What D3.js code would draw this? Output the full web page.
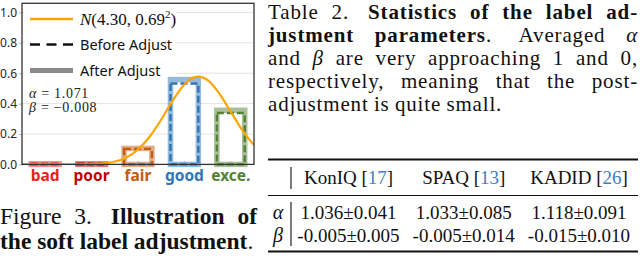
<!DOCTYPE html>
<html>
<head>
<meta charset="utf-8">
<script src="https://cdn.jsdelivr.net/npm/d3@7"></script>
<style>
  html, body { margin: 0; padding: 0; background: #fff; }
  svg { display: block; }
</style>
</head>
<body>
<script>
// values
const categories = ["bad", "poor", "fair", "good", "exce."];
const beforeAdjust = [0.004, 0.004, 0.102, 0.532, 0.338];
const afterAdjust = [0.004, 0.004, 0.105, 0.558, 0.356];
// orange curve
const curveX = [0.5, 1.0, 1.5, 2.0, 2.25, 2.5, 2.75, 3.0, 3.25, 3.5, 3.75, 4.0, 4.15, 4.3, 4.45, 4.6, 4.75, 5.0, 5.25, 5.5];
const curveY = [0.000, 0.000, 0.000, 0.002, 0.007, 0.019, 0.046, 0.098, 0.182, 0.295, 0.421, 0.526, 0.565, 0.578, 0.565, 0.526, 0.467, 0.346, 0.224, 0.127];
const yTicks = [0, 0.2, 0.4, 0.6, 0.8, 1.0];
const alphaText = "1.071";
const betaText = "\u22120.008";

// table
const tableCols = ["KonIQ", "SPAQ", "KADID"];
const tableRefs = ["17", "13", "26"];
const alphaRow = ["1.036\u00b10.041", "1.033\u00b10.085", "1.118\u00b10.091"];
const betaRow = ["-0.005\u00b10.005", "-0.005\u00b10.014", "-0.015\u00b10.010"];

const catColors = ["#f01e1e", "#c00000", "#c55a11", "#2e75b6", "#548235"];
const W = 640, H = 259;
const serif = "'Liberation Serif', 'Times New Roman', serif";
const sans = "'Noto Sans', 'Open Sans', sans-serif";

const svg = d3.select("body").append("svg")
    .attr("width", W)
    .attr("height", H);

// ---------- chart ----------
const x = d3.scaleLinear().domain([0.5, 5.5]).range([22, 254]);
const y = d3.scaleLinear().domain([0, 1.06]).range([164.4, 3.3]);
const barW = 0.6;

const chart = svg.append("g");

chart.append("clipPath").attr("id", "plot")
  .append("rect")
    .attr("x", x(0.5)).attr("y", y(1.06))
    .attr("width", x(5.5) - x(0.5)).attr("height", y(0) - y(1.06));

// grid
chart.append("g")
    .selectAll("line")
    .data(yTicks)
    .join("line")
      .attr("x1", x(0.5)).attr("x2", x(5.5))
      .attr("y1", d => y(d)).attr("y2", d => y(d))
      .attr("stroke", "#e4e4e4")
      .attr("stroke-width", 1);

// y axis labels + small ticks
const yAxis = chart.append("g")
    .attr("transform", `translate(${x(0.5)},0)`)
    .call(d3.axisLeft(y).tickValues(yTicks).tickFormat(d3.format(".1f")).tickSize(3).tickPadding(2));
yAxis.select(".domain").remove();
yAxis.selectAll(".tick line").attr("stroke", "#bbb");
yAxis.selectAll("text")
    .attr("font-family", sans)
    .attr("font-size", 12)
    .attr("fill", "#262626");

// legend box (white, hides grid)
chart.append("rect")
    .attr("x", 24).attr("y", 5)
    .attr("width", 152).attr("height", 76)
    .attr("fill", "#fff");

// after-adjust bars: thick translucent outline
chart.append("g")
    .selectAll("rect")
    .data(afterAdjust)
    .join("rect")
      .attr("x", (d, i) => x(i + 1 - barW / 2))
      .attr("y", d => y(d))
      .attr("width", x(1 + barW) - x(1))
      .attr("height", d => y(0) - y(d))
      .attr("fill", "#fff")
      .attr("stroke", (d, i) => catColors[i])
      .attr("stroke-opacity", 0.5)
      .attr("stroke-width", 5.5);

// before-adjust bars: dashed outline
chart.append("g")
    .selectAll("rect")
    .data(beforeAdjust)
    .join("rect")
      .attr("x", (d, i) => x(i + 1 - barW / 2))
      .attr("y", d => y(d))
      .attr("width", x(1 + barW) - x(1))
      .attr("height", d => y(0) - y(d))
      .attr("fill", "none")
      .attr("stroke", (d, i) => catColors[i])
      .attr("stroke-width", 2.4)
      .attr("stroke-dasharray", "7,3");

// x ticks (inward, small)
chart.append("g")
    .selectAll("line")
    .data(categories)
    .join("line")
      .attr("x1", (d, i) => x(i + 1)).attr("x2", (d, i) => x(i + 1))
      .attr("y1", y(0)).attr("y2", y(0) - 3)
      .attr("stroke", "#999");

// gaussian curve
const line = d3.line()
    .x(d => x(d[0]))
    .y(d => y(d[1]))
    .curve(d3.curveMonotoneX);
chart.append("path")
    .datum(d3.zip(curveX, curveY))
    .attr("clip-path", "url(#plot)")
    .attr("d", line)
    .attr("fill", "none")
    .attr("stroke", "#ffa500")
    .attr("stroke-width", 2.2);

// frame
chart.append("rect")
    .attr("x", x(0.5)).attr("y", y(1.06))
    .attr("width", x(5.5) - x(0.5)).attr("height", y(0) - y(1.06))
    .attr("fill", "none")
    .attr("stroke", "#333")
    .attr("stroke-width", 1.3);

// category labels
chart.append("g")
    .selectAll("text")
    .data(categories)
    .join("text")
      .attr("x", (d, i) => x(i + 1))
      .attr("y", 181)
      .attr("text-anchor", "middle")
      .attr("font-family", sans)
      .attr("font-weight", "bold")
      .attr("font-size", 15.5)
      .attr("fill", (d, i) => catColors[i])
      .text(d => d);

// legend
const lg = chart.append("g");
lg.append("line").attr("x1", 30).attr("x2", 73).attr("y1", 19).attr("y2", 19)
    .attr("stroke", "#ffa500").attr("stroke-width", 2.4);
lg.append("line").attr("x1", 30).attr("x2", 73).attr("y1", 44.5).attr("y2", 44.5)
    .attr("stroke", "#111").attr("stroke-width", 2.4).attr("stroke-dasharray", "10,6.5");
lg.append("line").attr("x1", 30).attr("x2", 73).attr("y1", 70.5).attr("y2", 70.5)
    .attr("stroke", "#8a8a8a").attr("stroke-width", 5);

const nText = lg.append("text").attr("x", 80).attr("y", 25)
    .attr("font-family", serif).attr("font-size", 17).attr("fill", "#111");
nText.append("tspan").attr("font-style", "italic").text("N");
nText.append("tspan").text("(4.30, 0.69");
nText.append("tspan").attr("font-size", 11).attr("dy", -7).text("2");
nText.append("tspan").attr("dy", 7).text(")");

lg.selectAll("text.lab")
    .data([["Before Adjust", 49.5], ["After Adjust", 75.5]])
    .join("text")
      .attr("class", "lab")
      .attr("x", 80).attr("y", d => d[1])
      .attr("font-family", sans).attr("font-size", 14.5).attr("fill", "#111")
      .text(d => d[0]);

const ab = chart.append("g").attr("font-family", serif).attr("font-size", 14)
    .attr("letter-spacing", 0.7).attr("fill", "#222");
const a1 = ab.append("text").attr("x", 29).attr("y", 97.5);
a1.append("tspan").attr("font-style", "italic").text("\u03b1");
a1.append("tspan").text(" = " + alphaText);
const b1 = ab.append("text").attr("x", 29).attr("y", 112);
b1.append("tspan").attr("font-style", "italic").text("\u03b2");
b1.append("tspan").text(" = " + betaText);

// ---------- justified text ----------
const textG = svg.append("g").attr("font-family", serif).attr("fill", "#111");

function setLine(words, x0, x1, baseline, size, justify, ls) {
  const nodes = words.map(w => {
    const t = textG.append("text")
        .attr("y", baseline)
        .attr("font-size", size)
        .attr("letter-spacing", ls || 0)
        .attr("font-weight", w.b ? "bold" : "normal")
        .attr("font-style", w.i ? "italic" : "normal");
    w.parts.forEach(p => {
      t.append("tspan").attr("font-weight", p[1] ? "bold" : (w.b ? "bold" : "normal")).text(p[0]);
    });
    return t;
  });
  const widths = nodes.map(n => n.node().getComputedTextLength());
  const extra = d3.sum(words, w => w.extra || 0);
  const total = d3.sum(widths) + extra;
  const gap = justify ? (x1 - x0 - total) / (words.length - 1) : size * 0.25;
  let cx = x0;
  nodes.forEach((n, i) => {
    n.attr("x", cx);
    cx += widths[i] + gap + (words[i].extra || 0);
  });
}

function wordsOf(str, bold, italicSet) {
  return str.split(" ").map(s => ({ parts: [[s, false]], b: bold, i: italicSet && italicSet.has(s) }));
}

const it = new Set(["\u03b1", "\u03b2"]);
const paraSize = 21, paraLs = 0.85;
const px0 = 268, px1 = 638;
const paraBase = [18.8, 41.8, 64.8, 87.8, 110.8];

let l1 = wordsOf("Table 2.", false).concat(wordsOf("Statistics of the label ad-", true));
l1[1].extra = 6;
setLine(l1, px0, px1, paraBase[0], paraSize, true, paraLs);

let l2 = wordsOf("justment", true)
  .concat([{ parts: [["parameters", true], [".", false]], b: false, extra: 6 }])
  .concat(wordsOf("Averaged \u03b1", false, it));
setLine(l2, px0, px1, paraBase[1], paraSize, true, paraLs);
setLine(wordsOf("and \u03b2 are very approaching 1 and 0,", false, it), px0, px1, paraBase[2], paraSize, true, paraLs);
setLine(wordsOf("respectively, meaning that the post-", false), px0, px1, paraBase[3], paraSize, true, paraLs);
setLine(wordsOf("adjustment is quite small.", false), px0, px1, paraBase[4], paraSize, false, paraLs);

let c1 = wordsOf("Figure 3.", false).concat(wordsOf("Illustration of", true));
c1[1].extra = 6;
setLine(c1, 0, 257, 224, 23.5, true);
let c2 = wordsOf("the soft label", true).concat([{ parts: [["adjustment", true], [".", false]], b: false }]);
setLine(c2, 0, 257, 249, 23.5, false);

// ---------- table ----------
const tb = svg.append("g").attr("font-family", serif).attr("fill", "#111");
const colX = d3.scalePoint().domain(tableCols).range([348.5, 579]);
const tSize = 19;

tb.append("line").attr("x1", 268).attr("x2", 638).attr("y1", 159.5).attr("y2", 159.5)
    .attr("stroke", "#111").attr("stroke-width", 2);
tb.append("line").attr("x1", 268).attr("x2", 638).attr("y1", 195.5).attr("y2", 195.5)
    .attr("stroke", "#111").attr("stroke-width", 1.2);
tb.append("line").attr("x1", 268).attr("x2", 638).attr("y1", 251.5).attr("y2", 251.5)
    .attr("stroke", "#111").attr("stroke-width", 2);
tb.append("line").attr("x1", 291).attr("x2", 291).attr("y1", 167).attr("y2", 189)
    .attr("stroke", "#333").attr("stroke-width", 1.3);
tb.append("line").attr("x1", 291).attr("x2", 291).attr("y1", 202).attr("y2", 246)
    .attr("stroke", "#333").attr("stroke-width", 1.3);

const head = tb.selectAll("text.h")
    .data(tableCols)
    .join("text")
      .attr("class", "h")
      .attr("x", d => colX(d))
      .attr("y", 184)
      .attr("text-anchor", "middle")
      .attr("font-size", tSize);
head.append("tspan").text(d => d + " [");
head.append("tspan").attr("fill", "#3b7fc4").text((d, i) => tableRefs[i]);
head.append("tspan").text("]");

[[alphaRow, "\u03b1", 218.5], [betaRow, "\u03b2", 241.5]].forEach(([row, sym, by]) => {
  tb.append("text").attr("x", 278).attr("y", by).attr("text-anchor", "middle")
      .attr("font-size", tSize + 1).attr("font-style", "italic").text(sym);
  tb.selectAll(null)
      .data(row)
      .join("text")
        .attr("x", (d, i) => colX(tableCols[i]))
        .attr("y", by)
        .attr("text-anchor", "middle")
        .attr("font-size", tSize)
        .text(d => d);
});
</script>
</body>
</html>
